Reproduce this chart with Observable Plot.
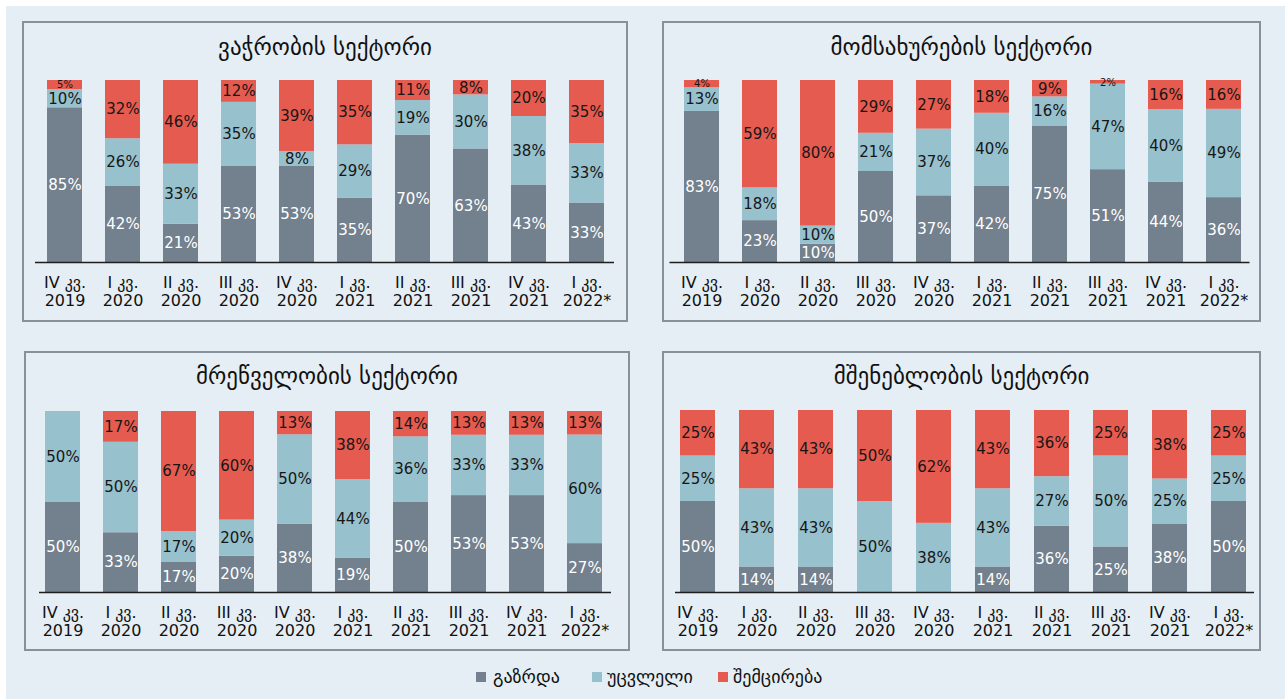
<!DOCTYPE html>
<html><head><meta charset="utf-8">
<script src="https://cdn.jsdelivr.net/npm/d3@7"></script>
<script src="https://cdn.jsdelivr.net/npm/@observablehq/plot@0.6"></script>
<style>
body{margin:0;background:#fff;width:1285px;height:699px;overflow:hidden;font-family:"DejaVu Sans",sans-serif;}
#bg{position:absolute;left:6px;top:6px;width:1279px;height:693px;background:#e5eef4;}
.panel{position:absolute;box-shadow:inset 0 0 0 2px #87919b;}
.panel svg{position:absolute;left:0;top:0;background:transparent;}
.title{position:absolute;left:0;width:100%;text-align:center;font-size:23px;color:#111;line-height:26px;}
.leg{position:absolute;top:667px;font-size:18px;color:#111;line-height:20px;}
.sw{position:absolute;top:672px;width:10px;height:10px;}
</style></head>
<body><div id="bg"></div><div id="root"></div>
<script>
// ---- data ----
const quarters = ["IV კვ.\n2019","I კვ.\n2020","II კვ.\n2020","III კვ.\n2020","IV კვ.\n2020","I კვ.\n2021","II კვ.\n2021","III კვ.\n2021","IV კვ.\n2021","I კვ.\n2022*"];
const seriesNames = ["გაზრდა","უცვლელი","შემცირება"];
const seriesColors = ["#73808d","#98c1ce","#e65b4f"];

const panelTitles = ["ვაჭრობის სექტორი","მომსახურების სექტორი","მრეწველობის სექტორი","მშენებლობის სექტორი"];

const tradeUp    = [85,42,21,53,53,35,70,63,43,33];
const tradeSame  = [10,26,33,35, 8,29,19,30,38,33];
const tradeDown  = [ 5,32,46,12,39,35,11, 8,20,35];

const servUp     = [83,23,10,50,37,42,75,51,44,36];
const servSame   = [13,18,10,21,37,40,16,47,40,49];
const servDown   = [ 4,59,80,29,27,18, 9, 2,16,16];

const manUp      = [50,33,17,20,38,19,50,53,53,27];
const manSame    = [50,50,17,20,50,44,36,33,33,60];
const manDown    = [ 0,17,67,60,13,38,14,13,13,13];

const conUp      = [50,14,14, 0, 0,14,36,25,38,50];
const conSame    = [25,43,43,50,38,43,27,50,25,25];
const conDown    = [25,43,43,50,62,43,36,25,38,25];

const panelSeries = [
  [tradeUp,tradeSame,tradeDown],
  [servUp,servSame,servDown],
  [manUp,manSame,manDown],
  [conUp,conSame,conDown]
];

// ---- layout (absolute page px) ----
const layouts = [
  {left:22, top:21, w:606, h:301, axL:35,    axR:614,   barL:44,  barR:606,  barTop:80,  axisY:262, titleY:13},
  {left:662,top:21, w:599, h:301, axL:669.5, axR:1249.5,barL:680, barR:1244, barTop:80,  axisY:262, titleY:13},
  {left:24, top:351,w:606, h:300, axL:39,    axR:611,   barL:44,  barR:603,  barTop:411, axisY:592, titleY:12},
  {left:662,top:351,w:599, h:300, axL:675,   axR:1254,  barL:680, barR:1246, barTop:410, axisY:592, titleY:12}
];

const root = document.getElementById("root");
layouts.forEach((L, i) => {
  const rows = [];
  quarters.forEach((q, qi) => {
    seriesNames.forEach((s, si) => rows.push({q, s, v: panelSeries[i][si][qi]}));
  });
  const bw = 35;
  const step = (L.barR - L.barL - bw) / 9;
  const pad = 1 - bw / step;
  const stackOpts = {x: "q", y: "v", z: "s", order: seriesNames, offset: "normalize"};
  const chart = Plot.plot({
    width: L.w,
    height: L.h,
    marginLeft: L.axL - L.left,
    marginRight: L.left + L.w - L.axR,
    marginTop: L.barTop - L.top,
    marginBottom: L.top + L.h - L.axisY,
    style: {background: "transparent", fontFamily: "DejaVu Sans, sans-serif"},
    x: {type: "band", domain: quarters, range: [L.barL - L.left, L.barR - L.left], paddingInner: pad, paddingOuter: 0},
    y: {domain: [0, 1], axis: null},
    color: {domain: seriesNames, range: seriesColors},
    marks: [
      Plot.barY(rows, Plot.stackY({...stackOpts, fill: "s"})),
      Plot.text(rows, Plot.stackY({...stackOpts,
        text: d => (d.s === seriesNames[0] && d.v > 0) ? d.v + "%" : null,
        fill: "white", fontSize: 15})),
      Plot.text(rows, Plot.stackY({...stackOpts,
        text: d => (d.s !== seriesNames[0] && d.v > 0) ? d.v + "%" : null,
        fill: "#161616", fontSize: d => d.v <= 5 ? 10 : 15,
        fontWeight: d => d.v <= 5 ? "bold" : "normal"})),
      Plot.ruleY([0], {stroke: "#1e1e1e", strokeWidth: 1.6}),
      Plot.axisX({tickSize: 0, tickPadding: 12, fontSize: 16, lineHeight: 1.15, label: null, fill: "#111"})
    ]
  });
  const div = document.createElement("div");
  div.className = "panel";
  div.style.left = L.left + "px"; div.style.top = L.top + "px";
  div.style.width = L.w + "px"; div.style.height = L.h + "px";
  const t = document.createElement("div");
  t.className = "title"; t.style.top = L.titleY + "px"; t.textContent = panelTitles[i];
  div.appendChild(chart);
  div.appendChild(t);
  root.appendChild(div);
});

// legend
const legX = [[476,493],[592,607],[718,733]];
seriesNames.forEach((s, i) => {
  const sw = document.createElement("div");
  sw.className = "sw"; sw.style.left = legX[i][0] + "px"; sw.style.background = seriesColors[i];
  const tx = document.createElement("div");
  tx.className = "leg"; tx.style.left = legX[i][1] + "px"; tx.textContent = s;
  root.appendChild(sw); root.appendChild(tx);
});
</script>
</body></html>
